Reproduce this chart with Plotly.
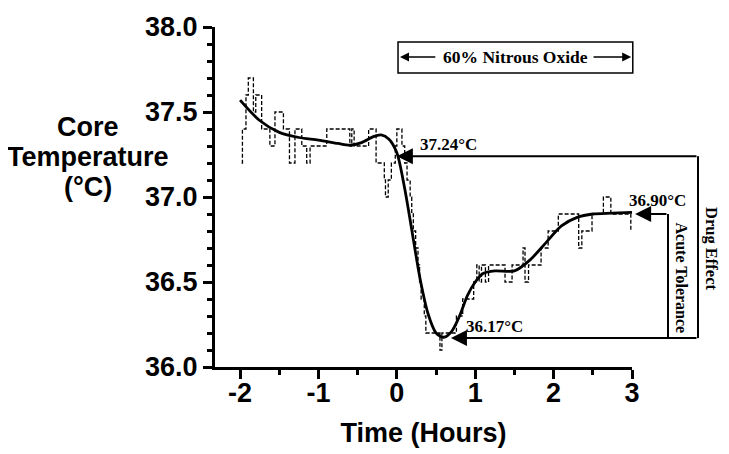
import plotly.graph_objects as go

# smoothed core temperature (hours, deg C)
fit_time = [-2.0, -1.75, -1.5, -1.25, -1.0, -0.75, -0.6, -0.45, -0.3, -0.2, -0.1, 0.0,
            0.1, 0.2, 0.3, 0.4, 0.5, 0.6, 0.7, 0.8, 0.9, 1.0, 1.1, 1.25, 1.5, 1.7,
            1.9, 2.1, 2.3, 2.5, 2.75, 3.0]
fit_temp = [37.57, 37.45, 37.38, 37.35, 37.335, 37.315, 37.305, 37.32, 37.355, 37.365, 37.34, 37.26,
            37.05, 36.78, 36.51, 36.31, 36.2, 36.175, 36.21, 36.3, 36.42, 36.5, 36.55, 36.565, 36.565, 36.63,
            36.73, 36.83, 36.88, 36.9, 36.905, 36.91]

# raw recording, 0.1 deg C resolution, drawn as steps
raw_time = [-1.98, -1.97, -1.925, -1.895, -1.83, -1.80, -1.725, -1.62, -1.555, -1.447,
            -1.37, -1.30, -1.213, -1.15, -1.107, -0.894, -0.60, -0.575, -0.545, -0.36,
            -0.265, -0.16, -0.145, -0.11, -0.07, -0.02, 0.0, 0.065, 0.10, 0.13,
            0.17, 0.19, 0.21, 0.24, 0.27, 0.29, 0.31, 0.35, 0.37, 0.55,
            0.575, 0.76, 0.84, 0.98, 1.02, 1.05, 1.08, 1.13, 1.17, 1.38,
            1.47, 1.61, 1.635, 1.68, 1.84, 1.93, 2.06, 2.32, 2.36, 2.49,
            2.635, 2.73, 2.985]
raw_temp = [37.2, 37.4, 37.6, 37.7, 37.5, 37.6, 37.4, 37.3, 37.5, 37.4,
            37.2, 37.4, 37.3, 37.2, 37.3, 37.4, 37.3, 37.4, 37.3, 37.4,
            37.2, 37.1, 37.0, 37.1, 37.2, 37.3, 37.4, 37.3, 37.2, 37.1,
            37.0, 36.9, 36.8, 36.7, 36.6, 36.5, 36.4, 36.3, 36.2, 36.1,
            36.2, 36.3, 36.4, 36.5, 36.6, 36.5, 36.6, 36.5, 36.6, 36.5,
            36.6, 36.7, 36.5, 36.6, 36.7, 36.8, 36.9, 36.7, 36.8, 36.9,
            37.0, 36.9, 36.8]

x_tickvals = [-2, -1, 0, 1, 2, 3]
x_ticktext = ["-2", "-1", "0", "1", "2", "3"]
y_tickvals = [36.0, 36.5, 37.0, 37.5, 38.0]
y_title_lines = ["Core", "Temperature", "(°C)"]

# marked temperatures and where they are marked (hours)
start_temp, start_time = 37.24, 0.0
nadir_temp, nadir_time = 36.17, 0.69
end_temp, end_time = 36.90, 3.04

X_RANGE = [-2.32, 3.0]
Y_RANGE = [36.0, 38.0]

# page body adds an 8px margin, so the figure is 8px smaller than the window
FIG_W, FIG_H = 721, 446
MARGIN = dict(l=207, r=97, t=19, b=87)
PLOT_W = FIG_W - MARGIN["l"] - MARGIN["r"]

SANS = "Liberation Sans, Arial, sans-serif"
SERIF = "Liberation Serif, Times New Roman, serif"

OUTER_X = 3.842   # "Drug Effect" bracket
INNER_X = 3.459   # "Acute Tolerance" bracket
N2O_Y = 37.824


def xp(h):
    return (h - X_RANGE[0]) / (X_RANGE[1] - X_RANGE[0])


def yp(v):
    return (v - Y_RANGE[0]) / (Y_RANGE[1] - Y_RANGE[0])


fig = go.Figure()
fig.add_trace(go.Scatter(
    x=raw_time, y=raw_temp, mode="lines",
    line=dict(color="black", width=1.3, dash="4px,2px", shape="hv"),
    hoverinfo="skip",
))
fig.add_trace(go.Scatter(
    x=fit_time, y=fit_temp, mode="lines",
    line=dict(color="black", width=2.8, shape="spline", smoothing=0.8),
    hoverinfo="skip",
))

line_kw = dict(type="line", xref="paper", yref="paper", line=dict(color="black", width=2))
shapes = [
    dict(x0=xp(OUTER_X), x1=xp(OUTER_X), y0=yp(start_temp), y1=yp(nadir_temp), **line_kw),
    dict(x0=xp(INNER_X), x1=xp(INNER_X), y0=yp(end_temp), y1=yp(nadir_temp), **line_kw),
    dict(type="rect", xref="paper", yref="paper",
         x0=xp(0.015), x1=xp(3.01), y0=yp(37.729), y1=yp(37.912),
         line=dict(color="black", width=1.5)),
]


def arrow(tip, tail, y, width=2, size=1.6):
    # tail given in hours, converted to a pixel offset so tips past the axis still draw
    return dict(x=xp(tip), y=yp(y), xref="paper", yref="paper",
                ax=(tail - tip) * PLOT_W / (X_RANGE[1] - X_RANGE[0]), ay=0,
                axref="pixel", ayref="pixel",
                text="", showarrow=True, arrowhead=2, arrowsize=size,
                arrowwidth=width, arrowcolor="black")


def label(text, x, y, size=17, anchor="left", angle=0):
    return dict(x=xp(x), y=yp(y), xref="paper", yref="paper", text=f"<b>{text}</b>",
                showarrow=False, xanchor=anchor, yanchor="middle", textangle=angle,
                font=dict(family=SERIF, size=size, color="black"))


annotations = [
    arrow(start_time, OUTER_X, start_temp),
    arrow(nadir_time, OUTER_X, nadir_temp),
    arrow(end_time, INNER_X, end_temp),
    arrow(0.04, 0.51, N2O_Y, width=1.5, size=1.2),
    arrow(2.99, 2.49, N2O_Y, width=1.5, size=1.2),
    label("60% Nitrous Oxide", 1.508, N2O_Y, size=17.5, anchor="center"),
    label(f"{start_temp:.2f}°C", 0.27, 37.306),
    label(f"{nadir_temp:.2f}°C", 0.86, 36.236),
    label(f"{end_temp:.2f}°C", 2.936, 36.98),
    label("Drug Effect", 4.02, 36.694, size=16.5, anchor="center", angle=90),
    label("Acute Tolerance", 3.63, 36.524, size=16, anchor="center", angle=90),
]

# y title as three lines, spaced like the original
for line_text, line_y in zip(y_title_lines, [37.412, 37.235, 37.059]):
    annotations.append(dict(
        x=-0.3046, y=yp(line_y), xref="paper", yref="paper",
        text=line_text, showarrow=False, xanchor="center", yanchor="middle",
        font=dict(family=SANS, size=27, color="black", weight="bold"),
    ))

tick_font = dict(family=SANS, size=27, color="black", weight="bold")

fig.update_layout(
    width=FIG_W, height=FIG_H,
    margin=dict(**MARGIN, autoexpand=False),
    paper_bgcolor="white", plot_bgcolor="white",
    showlegend=False,
    shapes=shapes,
    annotations=annotations,
    xaxis=dict(
        range=X_RANGE, tickvals=x_tickvals, ticktext=x_ticktext,
        ticks="outside", ticklen=9, tickwidth=3, tickcolor="black",
        showline=True, linewidth=3, linecolor="black",
        showgrid=False, zeroline=False, tickfont=tick_font,
        ticklabelstandoff=-9,
        minor=dict(tickvals=[-1.5, -0.5, 0.5, 1.5, 2.5], ticks="outside",
                   ticklen=5, tickwidth=3, tickcolor="black"),
        title=dict(text="Time (Hours)", font=tick_font, standoff=16),
    ),
    yaxis=dict(
        range=Y_RANGE, tickvals=y_tickvals, tickformat=".1f",
        ticks="outside", ticklen=9, tickwidth=3, tickcolor="black",
        showline=True, linewidth=3, linecolor="black",
        showgrid=False, zeroline=False, tickfont=tick_font,
        minor=dict(dtick=0.1, ticks="outside", ticklen=5, tickwidth=3,
                   tickcolor="black"),
    ),
)

fig.write_html("out.html")
